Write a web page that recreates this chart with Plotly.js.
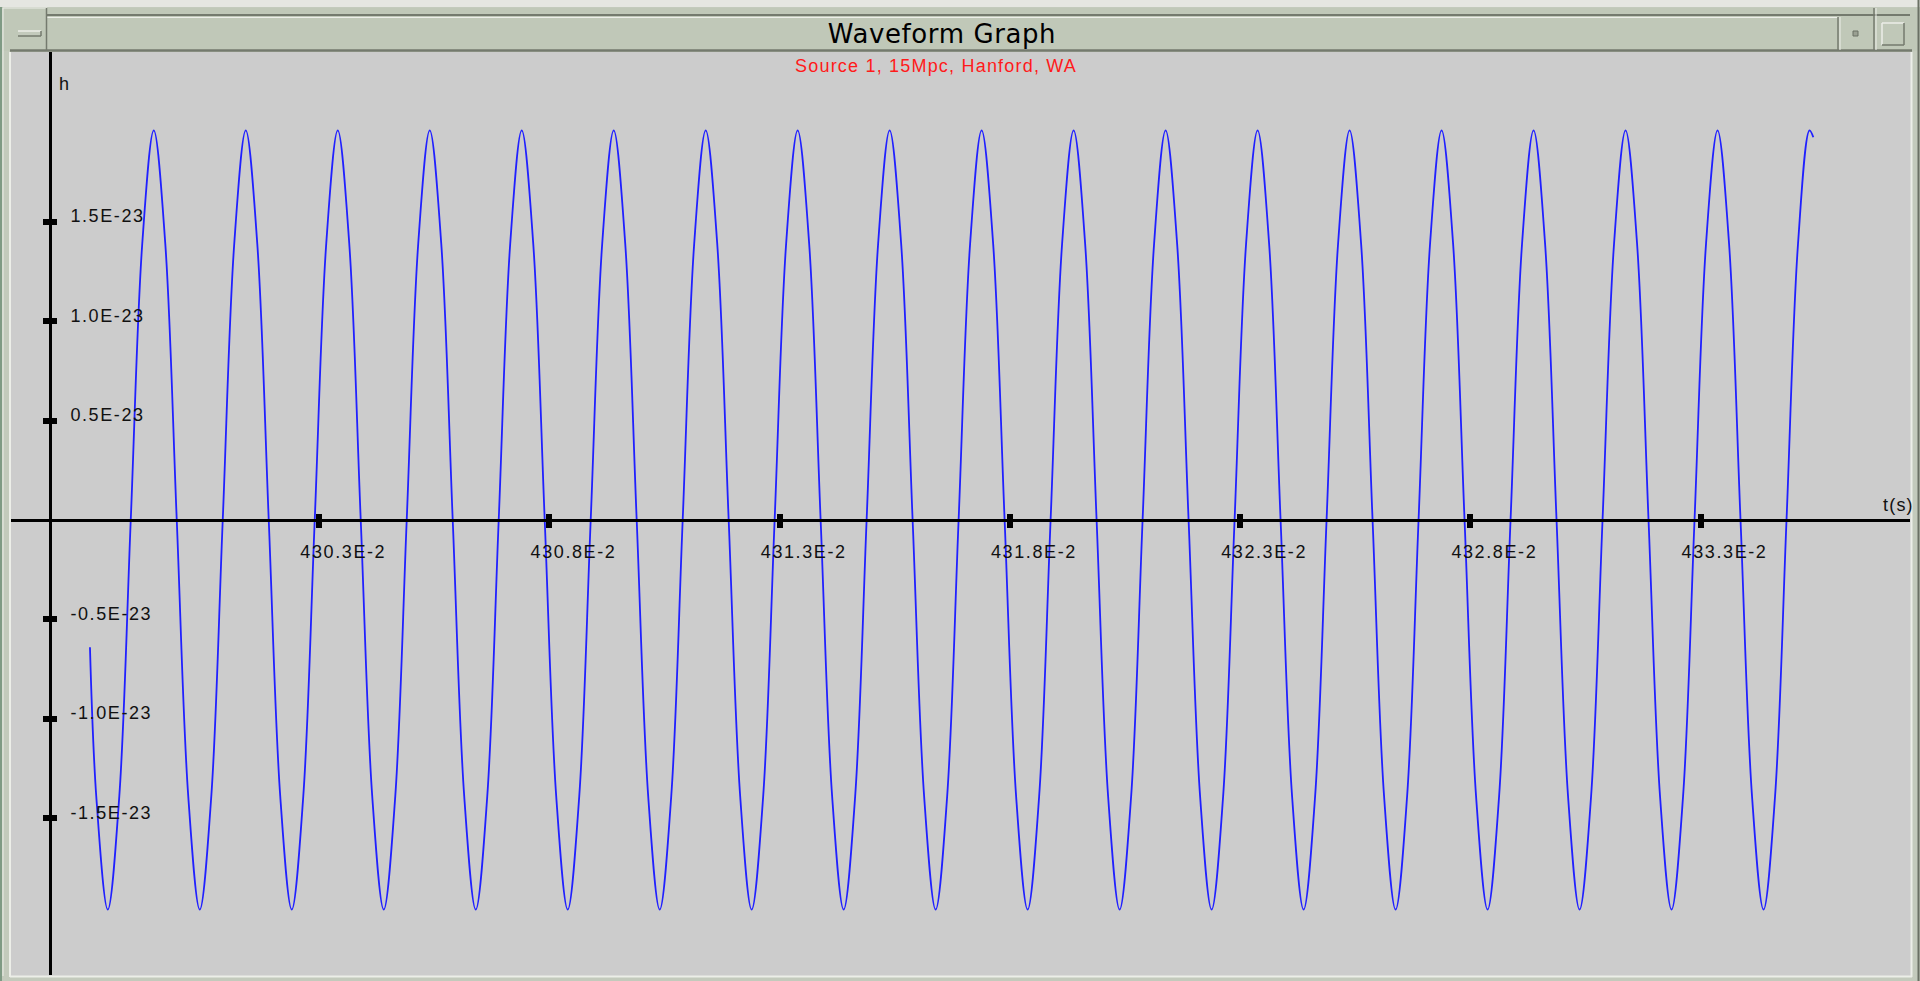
<!DOCTYPE html>
<html><head><meta charset="utf-8">
<script src="https://cdn.plot.ly/plotly-3.0.1.min.js"></script>
<style>
html,body{margin:0;padding:0;background:#c3cabc;overflow:hidden;}
#chart{width:1920px;height:981px;}
.xtick text,.ytick text{letter-spacing:1.6px;}
.annotation-text{letter-spacing:1.2px;}
.gtitle{letter-spacing:0.6px;}
</style></head><body><div id="chart"></div>
<script>
// time in seconds
const tSeconds = [
4.298019, 4.298156,
4.298406, 4.298656, 4.298905, 4.299155, 4.299405, 4.299655, 4.299904, 4.300154,
4.300404, 4.300654, 4.300903, 4.301153, 4.301403, 4.301653, 4.301902, 4.302152,
4.302402, 4.302652, 4.302901, 4.303151, 4.303401, 4.303651, 4.303900, 4.304150,
4.304400, 4.304650, 4.304899, 4.305149, 4.305399, 4.305649, 4.305898, 4.306148,
4.306398, 4.306648, 4.306897, 4.307147, 4.307397, 4.307647, 4.307896, 4.308146,
4.308396, 4.308646, 4.308895, 4.309145, 4.309395, 4.309645, 4.309894, 4.310144,
4.310394, 4.310644, 4.310893, 4.311143, 4.311393, 4.311643, 4.311892, 4.312142,
4.312391, 4.312641, 4.312890, 4.313140, 4.313390, 4.313640, 4.313889, 4.314139,
4.314389, 4.314639, 4.314888, 4.315138, 4.315388, 4.315638, 4.315887, 4.316137,
4.316387, 4.316637, 4.316886, 4.317136, 4.317386, 4.317636, 4.317885, 4.318135,
4.318385, 4.318635, 4.318884, 4.319134, 4.319384, 4.319634, 4.319883, 4.320133,
4.320383, 4.320633, 4.320882, 4.321132, 4.321382, 4.321632, 4.321881, 4.322131,
4.322381, 4.322631, 4.322880, 4.323130, 4.323380, 4.323630, 4.323879, 4.324129,
4.324379, 4.324629, 4.324878, 4.325128, 4.325378, 4.325628, 4.325877, 4.326127,
4.326377, 4.326627, 4.326876, 4.327126, 4.327376, 4.327626, 4.327875, 4.328125,
4.328375, 4.328625, 4.328874, 4.329124, 4.329374, 4.329624, 4.329873, 4.330123,
4.330373, 4.330623, 4.330872, 4.331122, 4.331372, 4.331622, 4.331871, 4.332121,
4.332371, 4.332621, 4.332870, 4.333120, 4.333370, 4.333620, 4.333869, 4.334119,
4.334369, 4.334619, 4.334868, 4.335118, 4.335368, 4.335450
];
// strain h, in units of 1E-23
const hStrain = [
-0.64, -1.39,
-1.96, -1.39, 0, 1.39, 1.96, 1.39, 0, -1.39,
-1.96, -1.39, 0, 1.39, 1.96, 1.39, 0, -1.39,
-1.96, -1.39, 0, 1.39, 1.96, 1.39, 0, -1.39,
-1.96, -1.39, 0, 1.39, 1.96, 1.39, 0, -1.39,
-1.96, -1.39, 0, 1.39, 1.96, 1.39, 0, -1.39,
-1.96, -1.39, 0, 1.39, 1.96, 1.39, 0, -1.39,
-1.96, -1.39, 0, 1.39, 1.96, 1.39, 0, -1.39,
-1.96, -1.39, 0, 1.39, 1.96, 1.39, 0, -1.39,
-1.96, -1.39, 0, 1.39, 1.96, 1.39, 0, -1.39,
-1.96, -1.39, 0, 1.39, 1.96, 1.39, 0, -1.39,
-1.96, -1.39, 0, 1.39, 1.96, 1.39, 0, -1.39,
-1.96, -1.39, 0, 1.39, 1.96, 1.39, 0, -1.39,
-1.96, -1.39, 0, 1.39, 1.96, 1.39, 0, -1.39,
-1.96, -1.39, 0, 1.39, 1.96, 1.39, 0, -1.39,
-1.96, -1.39, 0, 1.39, 1.96, 1.39, 0, -1.39,
-1.96, -1.39, 0, 1.39, 1.96, 1.39, 0, -1.39,
-1.96, -1.39, 0, 1.39, 1.96, 1.39, 0, -1.39,
-1.96, -1.39, 0, 1.39, 1.96, 1.39, 0, -1.39,
-1.96, -1.39, 0, 1.39, 1.96, 1.925
];
const xTickVals = [4.303, 4.308, 4.313, 4.318, 4.323, 4.328, 4.333];
const xTickText = ['430.3E-2', '430.8E-2', '431.3E-2', '431.8E-2', '432.3E-2', '432.8E-2', '433.3E-2'];
const yTickVals = [-1.5, -1.0, -0.5, 0.5, 1.0, 1.5];
const yTickText = ['-1.5E-23', '-1.0E-23', '-0.5E-23', '0.5E-23', '1.0E-23', '1.5E-23'];

const W = 1920, H = 981;
const px = x => x / W, py = y => 1 - y / H;
const xRange = [4.296304, 4.337550];
const yRange = [-2.2887, 2.3541];
const xDomain = [px(11), px(1910)];
const yDomain = [py(975), py(52)];
const yAxisPos = px(50);
const xAxisPos = py(520);

function rect(x0, y0, x1, y1, fill, lineColor) {
  return {type: 'rect', xref: 'paper', yref: 'paper', x0: px(x0), x1: px(x1), y0: py(y0), y1: py(y1),
    fillcolor: fill, line: {width: lineColor ? 1 : 0, color: lineColor || fill}, layer: 'below'};
}
function seg(x0, y0, x1, y1, color, w) {
  return {type: 'line', xref: 'paper', yref: 'paper', x0: px(x0), x1: px(x1), y0: py(y0), y1: py(y1),
    line: {color: color, width: w}, layer: 'below'};
}
const LIGHT = '#eceee8', DARK = '#747a6e', FRAME = '#c3cabc', BAR = '#c0c8b8';
const shapes = [
  rect(0, 0, 1920, 7, '#e5e6e1'),
  rect(3, 8, 1917, 51, BAR),
  seg(47, 15, 1910, 15, DARK, 2),
  seg(47, 17.5, 1838, 17.5, LIGHT, 1),
  seg(3, 8, 47, 8, LIGHT, 1),
  seg(3, 8, 3, 976, LIGHT, 1),
  seg(46.5, 8, 46.5, 51, DARK, 1.5),
  seg(10, 50.5, 1912, 50.5, DARK, 2.5),
  rect(18, 31, 41, 36, FRAME),
  seg(18, 31, 41, 31, LIGHT, 1.5),
  seg(18, 36, 41, 36, DARK, 1.5),
  seg(41, 31, 41, 36, DARK, 1.5),
  seg(1838, 17, 1838, 50, DARK, 1.5),
  seg(1840, 17, 1840, 50, LIGHT, 1),
  seg(1874, 8, 1874, 50, DARK, 1.5),
  seg(1876, 8, 1876, 50, LIGHT, 1),
  rect(1853, 31, 1858, 36, '#9aa092', '#6a7064'),
  seg(1882, 23, 1904, 23, LIGHT, 1.5),
  seg(1882, 23, 1882, 45, LIGHT, 1.5),
  seg(1904, 23, 1904, 45, DARK, 1.5),
  seg(1882, 45, 1904, 45, DARK, 1.5),
  rect(11, 52, 1911, 976, '#cccccc'),
  seg(10, 52, 10, 977, LIGHT, 2),
  seg(1911.5, 52, 1911.5, 977, LIGHT, 2),
  seg(10, 976.5, 1912, 976.5, LIGHT, 2),
  seg(1918.5, 0, 1918.5, 981, '#6a7064', 2),
  seg(1, 7, 1, 981, '#7f9a84', 2)
];

const baseFont = {family: '"Liberation Sans", Arial, sans-serif', size: 18, color: '#111111'};

const traces = [
  {x: tSeconds, y: hStrain, type: 'scatter', mode: 'lines', xaxis: 'x', yaxis: 'y',
   line: {color: '#2020ff', width: 1.8, shape: 'spline', smoothing: 1}, hoverinfo: 'skip', showlegend: false},
  {x: [], y: [], type: 'scatter', mode: 'lines', xaxis: 'x2', yaxis: 'y2', showlegend: false, hoverinfo: 'skip'}
];

const layout = {
  width: W, height: H,
  margin: {l: 0, r: 0, t: 0, b: 0, pad: 0},
  paper_bgcolor: FRAME,
  plot_bgcolor: '#cccccc',
  showlegend: false,
  font: baseFont,
  title: {text: 'Waveform Graph', font: {family: '"DejaVu Sans", sans-serif', size: 26, color: '#000000'},
    xref: 'container', yref: 'container', x: 942 / W, xanchor: 'center', y: py(34), yanchor: 'middle'},
  xaxis: {domain: xDomain, range: xRange, anchor: 'free', position: xAxisPos,
    showline: true, linecolor: '#000000', linewidth: 3, showgrid: false, zeroline: false,
    tickmode: 'array', tickvals: xTickVals, ticktext: xTickText,
    ticks: 'outside', ticklen: 6, tickwidth: 6, tickcolor: '#000000',
    ticklabelshift: 24, ticklabelstandoff: 8, tickfont: baseFont, fixedrange: true},
  xaxis2: {domain: xDomain, range: xRange, overlaying: 'x', anchor: 'free', position: xAxisPos,
    showline: false, showgrid: false, zeroline: false,
    tickmode: 'array', tickvals: xTickVals, ticks: 'inside', ticklen: 6, tickwidth: 6, tickcolor: '#000000',
    showticklabels: false, fixedrange: true},
  yaxis: {domain: yDomain, range: yRange, anchor: 'free', position: yAxisPos, side: 'left',
    showline: true, linecolor: '#000000', linewidth: 3, showgrid: false, zeroline: false,
    tickmode: 'array', tickvals: yTickVals, ticktext: yTickText,
    ticks: 'outside', ticklen: 6, tickwidth: 6, tickcolor: '#000000',
    ticklabelposition: 'inside', ticklabelshift: -6, ticklabelstandoff: 19, tickfont: baseFont, fixedrange: true},
  yaxis2: {domain: yDomain, range: yRange, overlaying: 'y', anchor: 'free', position: yAxisPos, side: 'left',
    showline: false, showgrid: false, zeroline: false,
    tickmode: 'array', tickvals: yTickVals, ticks: 'inside', ticklen: 6, tickwidth: 6, tickcolor: '#000000',
    showticklabels: false, fixedrange: true},
  shapes: shapes,
  annotations: [
    {text: 'Source 1, 15Mpc, Hanford, WA', xref: 'paper', yref: 'paper', x: 936 / W, y: py(66),
     xanchor: 'center', yanchor: 'middle', showarrow: false,
     font: {family: '"Liberation Sans", Arial, sans-serif', size: 18, color: '#ff1a1a'}},
    {text: 'h', xref: 'paper', yref: 'paper', x: px(57), y: py(84), xanchor: 'left', yanchor: 'middle',
     showarrow: false, font: baseFont},
    {text: 't(s)', xref: 'paper', yref: 'paper', x: px(1881), y: py(505), xanchor: 'left', yanchor: 'middle',
     showarrow: false, font: baseFont}
  ]
};

Plotly.newPlot('chart', traces, layout, {displayModeBar: false, responsive: false, staticPlot: true});
</script>
</body></html>
